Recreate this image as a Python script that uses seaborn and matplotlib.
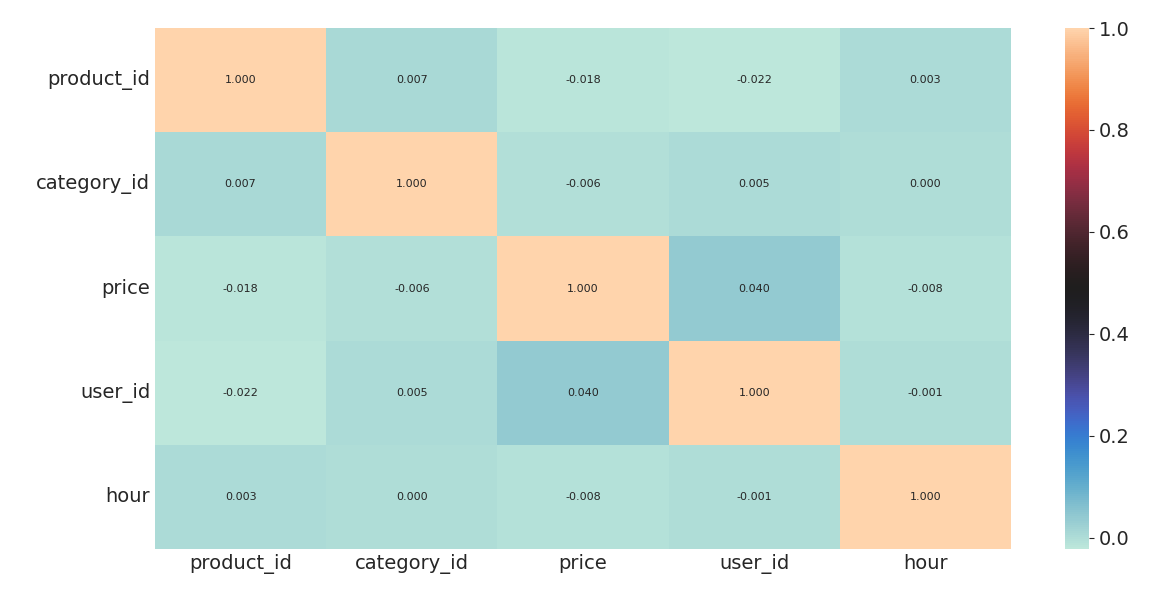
import numpy as np
import pandas as pd
import matplotlib
matplotlib.use("Agg")
import matplotlib.pyplot as plt
import seaborn as sns

labels = ["product_id", "category_id", "price", "user_id", "hour"]
corr_values = [
    [1.000, 0.007, -0.018, -0.022, 0.003],
    [0.007, 1.000, -0.006, 0.005, 0.000],
    [-0.018, -0.006, 1.000, 0.040, -0.008],
    [-0.022, 0.005, 0.040, 1.000, -0.001],
    [0.003, 0.000, -0.008, -0.001, 1.000],
]

corr = pd.DataFrame(corr_values, index=labels, columns=labels)

sns.set_style("ticks")
W, H = 1163, 603
fig = plt.figure(figsize=(W / 100, H / 100), dpi=100)
ax = fig.add_axes([155 / W, (H - 549) / H, 856 / W, 521 / H])
cax = fig.add_axes([1065 / W, (H - 549) / H, 24 / W, 521 / H])
sns.heatmap(corr, annot=True, fmt=".3f", cmap="icefire", ax=ax, cbar_ax=cax,
            annot_kws={"size": 8})
ax.tick_params(axis="both", labelsize=14, length=0)
plt.setp(ax.get_yticklabels(), rotation=0)
cax.tick_params(labelsize=14)
plt.savefig("out.png", dpi=100)
